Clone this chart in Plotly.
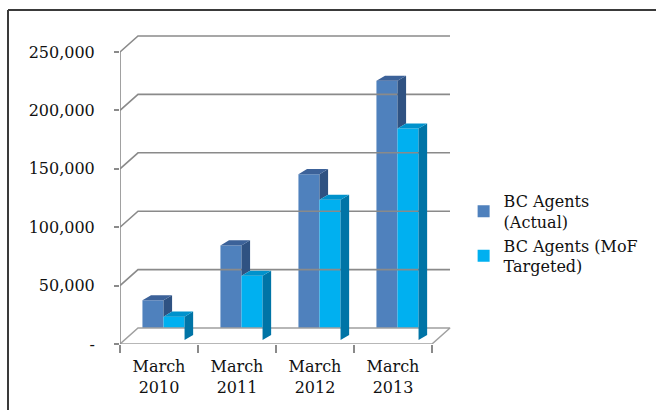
import plotly.graph_objects as go

categories = ["March<br>2010", "March<br>2011", "March<br>2012", "March<br>2013"]
actual = [34000, 81000, 142000, 222000]
targeted = [20000, 55000, 120000, 181000]
series_names = ["BC Agents<br>(Actual)", "BC Agents (MoF<br>Targeted)"]
y_ticks = [0, 50000, 100000, 150000, 200000, 250000]
y_ticktext = ["-", "50,000", "100,000", "150,000", "200,000", "250,000"]

# 3D styling constants (in axis units)
DX, DY = 0.2308, 13700          # depth of the floor / walls
BW = 0.27                        # bar width
BDX, BDY = 0.11, 4300            # depth of each bar
OX0, OY0 = 0.25 * DX, 0.25 * DY  # front face of bars sits slightly behind the axis

colors = {
    "a": dict(front="#4F81BD", top="#3C6299", side="#2F5282"),
    "t": dict(front="#00B0F0", top="#0092CC", side="#0074A6"),
}
FONT = "DejaVu Serif"
GRID = "#8A8A8A"

xs = list(range(len(categories)))
x0, x1 = -0.5, len(categories) - 0.5

fig = go.Figure()

# gridlines on the back wall (from the tick values)
gx, gy = [], []
for v in y_ticks[1:]:
    gx += [x0, x0 + DX, x1 + DX, None]
    gy += [v, v + DY, v + DY, None]
fig.add_trace(go.Scatter(x=gx, y=gy, mode="lines", line=dict(color=GRID, width=1.6),
                         showlegend=False, hoverinfo="skip"))
# floor
fig.add_trace(go.Scatter(x=[x0, x1, x1 + DX, x0 + DX, x0], y=[0, 0, DY, DY, 0],
                         mode="lines", fill="toself", fillcolor="white",
                         line=dict(color="#A0A0A0", width=1.5),
                         showlegend=False, hoverinfo="skip"))
# front value axis line
fig.add_trace(go.Scatter(x=[x0, x0], y=[0, y_ticks[-1]], mode="lines",
                         line=dict(color=GRID, width=1.6), showlegend=False, hoverinfo="skip"))

# front faces as bars
fig.add_trace(go.Bar(x=xs, y=actual, base=[OY0] * len(xs), width=BW, offset=-BW + OX0,
                     marker=dict(color=colors["a"]["front"], line=dict(width=0)),
                     name=series_names[0]))
fig.add_trace(go.Bar(x=xs, y=targeted, base=[OY0] * len(xs), width=BW, offset=OX0,
                     marker=dict(color=colors["t"]["front"], line=dict(width=0)),
                     name=series_names[1]))

def faces(vals, left_off, lower=None):
    tx, ty, sx, sy = [], [], [], []
    for i, (xc, v) in enumerate(zip(xs, vals)):
        xl = xc + left_off
        xr = xl + BW
        yt = OY0 + v
        yb = OY0 if lower is None else OY0 + lower[i]
        tx += [xl, xr, xr + BDX, xl + BDX, xl, None]
        ty += [yt, yt, yt + BDY, yt + BDY, yt, None]
        sx += [xr, xr + BDX, xr + BDX, xr, xr, None]
        sy += [yb, yb + BDY, yt + BDY, yt, yb, None]
    return tx, ty, sx, sy

# actual: side face visible only above the neighbouring targeted bar
atx, aty, asx, asy = faces(actual, -BW + OX0, lower=targeted)
ttx, tty, tsx, tsy = faces(targeted, OX0)
for fx, fy, col in [(asx, asy, colors["a"]["side"]), (atx, aty, colors["a"]["top"]),
                    (tsx, tsy, colors["t"]["side"]), (ttx, tty, colors["t"]["top"])]:
    fig.add_trace(go.Scatter(x=fx, y=fy, mode="lines", fill="toself", fillcolor=col,
                             line=dict(width=0, color=col), showlegend=False, hoverinfo="skip"))

W, H = 656, 410
L, R, T, B = 120, 204, 30, 66
xpx = 78.0
ypx = 1.168 / 1000

fig.update_layout(
    width=W, height=H,
    margin=dict(l=L, r=R, t=T, b=B),
    paper_bgcolor="white", plot_bgcolor="white",
    barmode="overlay",
    font=dict(family=FONT, size=16, color="#111111"),
    xaxis=dict(range=[x0, x0 + (W - L - R) / xpx], tickvals=xs, ticktext=categories,
               ticks="", showgrid=False, zeroline=False, showline=False,
               ticklabelstandoff=11,
               minor=dict(tickvals=[x0 + i for i in range(len(categories) + 1)],
                          ticks="outside", ticklen=8, tickcolor=GRID, tickwidth=1.5,
                          showgrid=False)),
    yaxis=dict(range=[0, (H - T - B) / ypx], tickvals=y_ticks, ticktext=y_ticktext,
               ticks="outside", ticklen=5, tickcolor=GRID, tickwidth=1.5,
               showgrid=False, zeroline=False, showline=False, ticklabelstandoff=16),
    legend=dict(x=1.035, y=0.51, xanchor="left", yanchor="top",
                font=dict(family=FONT, size=16, color="#111111"),
                itemwidth=30, tracegroupgap=4, bgcolor="rgba(0,0,0,0)"),
    shapes=[
        dict(type="line", xref="paper", yref="paper",
             x0=(8 - L) / (W - L - R), x1=(8 - L) / (W - L - R),
             y0=(H - B - 10) / (H - T - B), y1=-B / (H - T - B),
             line=dict(color="#3a3a3a", width=2)),
        dict(type="line", xref="paper", yref="paper",
             x0=(8 - L) / (W - L - R), x1=(W - L) / (W - L - R),
             y0=(H - B - 10) / (H - T - B), y1=(H - B - 10) / (H - T - B),
             line=dict(color="#3a3a3a", width=2)),
    ],
)

fig.write_html("out.html")
